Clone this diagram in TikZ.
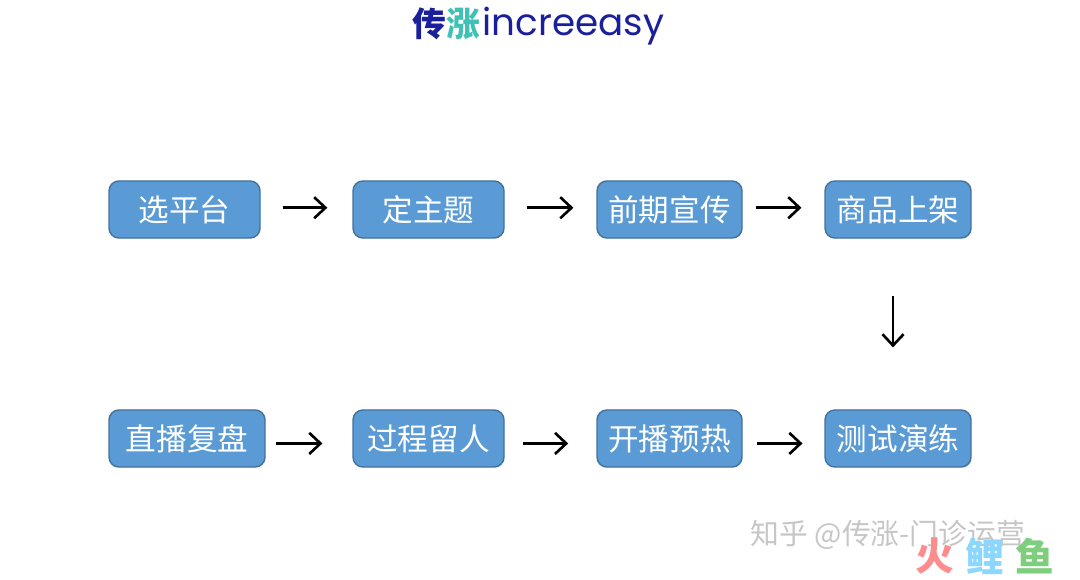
\documentclass[tikz,border=0pt]{standalone}
\usepackage{fontspec}
\usepackage{xcolor}
\usetikzlibrary{arrows.meta}
\setmainfont{Noto Sans CJK SC}
\newfontfamily\logofont{Poppins}
\definecolor{boxblue}{HTML}{5B9BD5}
\definecolor{boxline}{HTML}{41719C}
\definecolor{logoblue}{HTML}{1A1F9C}
\definecolor{logoteal}{HTML}{3FC1B5}
\tikzset{
    stepbox/.style={draw=boxline, fill=boxblue, line width=0.4pt, rounded corners=2.8pt,
        text=white, font=\fontsize{8.7pt}{10pt}\selectfont, inner sep=0pt,
        minimum width=#1*0.01cm, minimum height=0.57cm},
    flow/.style={->, black, line width=0.75pt},
    markfont/.style={gray!45, font=\fontsize{8.2pt}{10pt}\selectfont, inner sep=0pt, anchor=west},
    brandfont/.style={font=\fontsize{11pt}{12pt}\bfseries\selectfont, inner sep=0pt}
}

\begin{document}
\begin{tikzpicture}[x=0.01cm, y=-0.01cm, >={Straight Barb[length=3.2pt, width=6pt]}]
\useasboundingbox (0, 0) rectangle (1080, 579);

% logo
\node[font=\fontsize{9.6pt}{10pt}\bfseries\selectfont, text=logoblue, inner sep=0pt] (logocn) at (446, 24) {传{\color{logoteal}涨}};
\node[font=\logofont\fontsize{10.6pt}{12pt}\selectfont, text=logoblue, inner sep=0pt, anchor=west] (logoen) at (482, 26) {increeasy};

% top row
\node[stepbox=151] (platform) at (184.5, 209.5) {选平台};
\node[stepbox=151] (theme) at (428.5, 209.5) {定主题};
\node[stepbox=145] (promo) at (669.5, 209.5) {前期宣传};
\node[stepbox=146] (goods) at (898, 209.5) {商品上架};

% bottom row
\node[stepbox=156] (review) at (187, 438.5) {直播复盘};
\node[stepbox=151] (retain) at (428.5, 438.5) {过程留人};
\node[stepbox=145] (warmup) at (669.5, 438.5) {开播预热};
\node[stepbox=146] (rehearse) at (898, 438.5) {测试演练};

% arrows
\draw[flow, shorten <=6.2pt, shorten >=7.1pt] ([yshift=0.5pt]platform.east) -- ([yshift=0.5pt]theme.west);
\draw[flow, shorten <=6.2pt, shorten >=6.5pt] ([yshift=0.5pt]theme.east) -- ([yshift=0.5pt]promo.west);
\draw[flow, shorten <=3.7pt, shorten >=6.5pt] ([yshift=0.5pt]promo.east) -- ([yshift=0.5pt]goods.west);
\draw[flow, shorten <=16.2pt, shorten >=17.6pt] (goods.south -| 893, 238) -- (rehearse.north -| 893, 410);
\draw[flow, shorten <=2.8pt, shorten >=8.5pt] ([yshift=-1.4pt]review.east) -- ([yshift=-1.4pt]retain.west);
\draw[flow, shorten <=5.1pt, shorten >=8pt] ([yshift=-1.4pt]retain.east) -- ([yshift=-1.4pt]warmup.west);
\draw[flow, shorten <=4.2pt, shorten >=6.2pt] ([yshift=-1.4pt]warmup.east) -- ([yshift=-1.4pt]rehearse.west);

% watermark
\node[markfont] (mark) at (750, 535) {知乎 @传涨-门诊运营};
\node[brandfont, text=red!45] (huo) at (935, 556) {火};
\node[brandfont, text=blue!35!cyan!45] (li) at (985, 556) {鲤};
\node[brandfont, text=green!45!gray!70] (yu) at (1035, 556) {鱼};

\end{tikzpicture}
\end{document}
